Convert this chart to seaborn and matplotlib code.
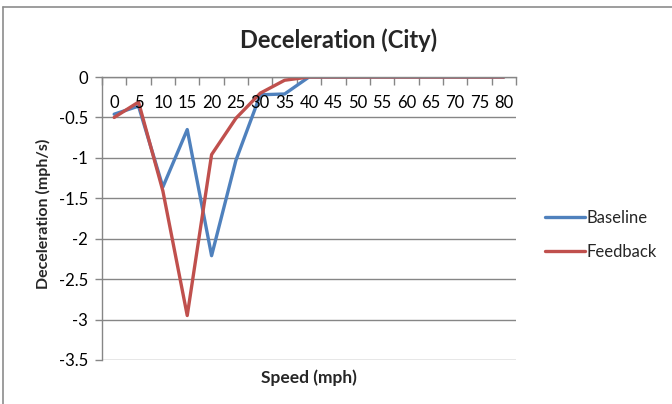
import matplotlib
matplotlib.use("Agg")
import matplotlib.pyplot as plt
from matplotlib.lines import Line2D
import seaborn as sns
import pandas as pd
import numpy as np

# Speed bins (mph) and mean deceleration per bin (mph/s)
speeds = [0, 5, 10, 15, 20, 25, 30, 35, 40, 45, 50, 55, 60, 65, 70, 75, 80]
baseline = [-0.46, -0.36, -1.36, -0.65, -2.21, -1.03, -0.22, -0.21, 0, 0, 0, 0, 0, 0, 0, 0, 0]
feedback = [-0.50, -0.31, -1.41, -2.95, -0.96, -0.51, -0.20, -0.04, 0, 0, 0, 0, 0, 0, 0, 0, 0]
series_names = ["Baseline", "Feedback"]
colors = ["#4F81BD", "#C0504D"]
y_ticks = [0, -0.5, -1, -1.5, -2, -2.5, -3, -3.5]

sns.set_theme(style="white")
plt.rcParams["font.family"] = ["Lato", "DejaVu Sans"]

df = pd.DataFrame({
    "pos": list(range(len(speeds))) * 2,
    "value": baseline + feedback,
    "series": [series_names[0]] * len(speeds) + [series_names[1]] * len(speeds),
})

W, H = 672, 404
fig = plt.figure(figsize=(W / 100, H / 100), dpi=100)
fig.patch.set_facecolor("white")

# plot area in pixel coordinates
px_l, px_r, px_t, px_b = 102, 516, 77, 360
ax = fig.add_axes([px_l / W, 1 - px_b / H, (px_r - px_l) / W, (px_b - px_t) / H])

sns.lineplot(data=df, x="pos", y="value", hue="series", palette=colors,
             hue_order=series_names, linewidth=2.4, ax=ax, legend=False)

grid_c = "#868686"
ax.set_xlim(-0.5, len(speeds) - 0.5)
ax.set_ylim(-3.5, 0)
ax.set_yticks(y_ticks)
ax.set_yticklabels([f"{t:g}" for t in y_ticks])
ax.yaxis.grid(True, color=grid_c, linewidth=1.0)
ax.xaxis.grid(False)
ax.set_axisbelow(True)
for s in ["right", "bottom"]:
    ax.spines[s].set_visible(False)
ax.spines["left"].set_color(grid_c)
ax.spines["top"].set_color(grid_c)
ax.spines["left"].set_linewidth(1.0)
ax.spines["top"].set_linewidth(1.0)

ax.tick_params(axis="y", which="major", length=5, width=1, color=grid_c,
               labelsize=12, labelcolor="black", pad=5, left=True)

# category axis sits on the zero line, with boundary tick marks pointing down
ax.xaxis.tick_top()
ax.set_xticks(np.arange(-0.5, len(speeds), 1.0))
ax.set_xticklabels([])
ax.tick_params(axis="x", which="major", direction="in", length=6, width=1,
               color=grid_c, top=True, bottom=False)
for i, s in enumerate(speeds):
    ax.annotate(str(s), xy=(i, 1), xycoords=("data", "axes fraction"),
                xytext=(0, -26), textcoords="offset pixels",
                ha="center", va="center", fontsize=12, color="black")

ax.set_xlabel("")
ax.set_ylabel("")
fig.text(309 / W, 1 - 378 / H, "Speed (mph)",
         ha="center", va="center", fontsize=12.5, fontweight="bold")
fig.text(43 / W, 1 - 214 / H, "Deceleration (mph/s)", rotation=90,
         ha="center", va="center", fontsize=11.5, fontweight="bold")
fig.text(339 / W, 1 - 40 / H, "Deceleration (City)",
         ha="center", va="center", fontsize=17, fontweight="bold")

handles = [Line2D([], [], color=c, lw=2.4) for c in colors]
fig.legend(handles, series_names, loc="center left",
           bbox_to_anchor=(530 / W, 1 - 235 / H), frameon=False,
           fontsize=12, handlelength=2.4, handletextpad=0.1,
           labelspacing=1.05)

# chart border
fig.add_artist(Line2D([3 / W, 3 / W], [0, 1 - 7 / H], transform=fig.transFigure,
                      color="#8c8c8c", lw=1.2))
fig.add_artist(Line2D([3 / W, 1], [1 - 7 / H, 1 - 7 / H], transform=fig.transFigure,
                      color="#8c8c8c", lw=1.2))

fig.savefig("out.png", dpi=100)
